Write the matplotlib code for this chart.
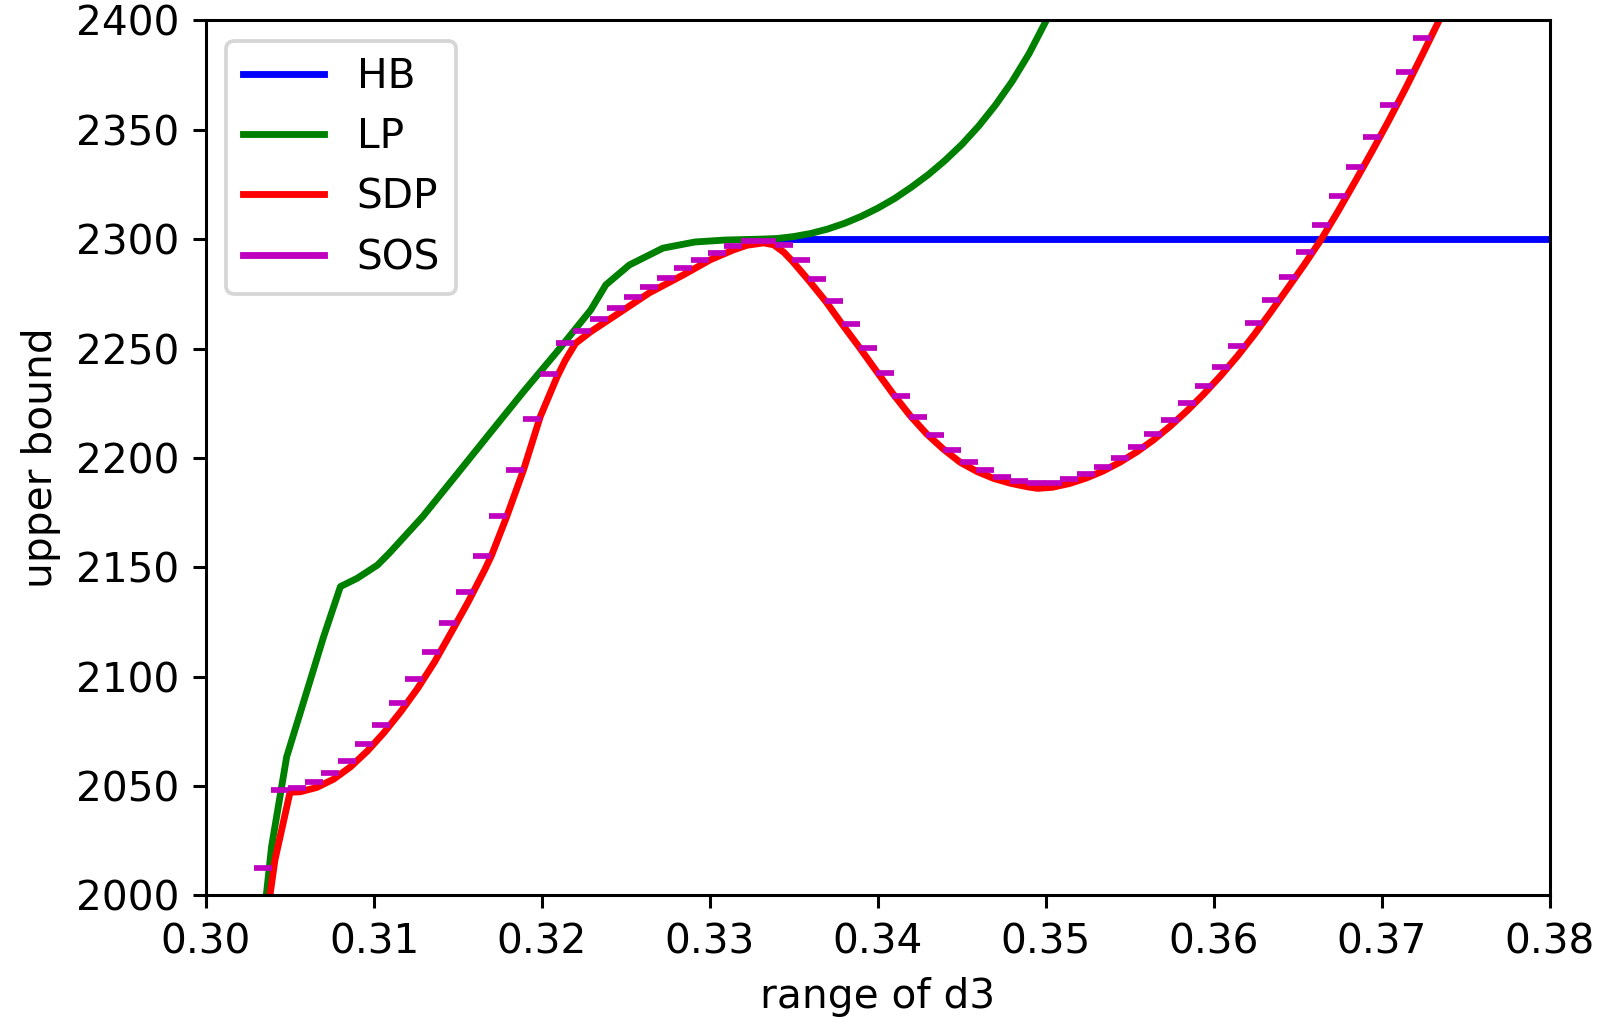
import numpy as np
import matplotlib
matplotlib.use('Agg')
import matplotlib.pyplot as plt
from matplotlib.lines import Line2D

# HB: flat bound
hb_x = [0.3334, 0.3800]
hb_y = [2300, 2300]

# LP
lp_x = [0.3035, 0.3036, 0.3039, 0.3048, 0.3056, 0.3070, 0.3080, 0.3090, 0.3102,
        0.3109, 0.3129, 0.3149, 0.3169, 0.3189, 0.3209, 0.3229, 0.3238, 0.3252,
        0.3272, 0.3291, 0.3309, 0.3330, 0.3340, 0.3350, 0.3360, 0.3370, 0.3380,
        0.3390, 0.3400, 0.3410, 0.3420, 0.3430, 0.3440, 0.3450, 0.3460, 0.3470,
        0.3480, 0.3490, 0.3500]
lp_y = [1995, 2001, 2022.3, 2063.4, 2083.3, 2118.3, 2141.2, 2145, 2151,
        2156.4, 2173.2, 2192.2, 2211.3, 2230.3, 2248.6, 2267.6, 2279.1, 2288.2,
        2295.9, 2298.7, 2299.6, 2300.0, 2300.3, 2301.2, 2302.6, 2304.6, 2307.2,
        2310.4, 2314.2, 2318.6, 2323.8, 2329.5, 2336.0, 2343.3, 2351.7, 2361.3,
        2372.2, 2384.8, 2399.6]

# SDP
sdp_x = [0.30375, 0.3041, 0.3050, 0.3056, 0.3066, 0.3076, 0.3086, 0.3096, 0.3106,
         0.3116, 0.3126, 0.3136, 0.3146, 0.3156, 0.3166, 0.3170, 0.3179, 0.3189,
         0.3199, 0.3209, 0.3214, 0.3220, 0.3229, 0.3244, 0.3264, 0.3284, 0.3300,
         0.3314, 0.3322, 0.3332, 0.3338, 0.3344, 0.3349, 0.3359, 0.3369, 0.3379,
         0.3389, 0.3399, 0.3409, 0.3419, 0.3429, 0.3439, 0.3449, 0.3459, 0.3469,
         0.3479, 0.3489, 0.3495, 0.3504, 0.3514, 0.3524, 0.3534, 0.3544, 0.3554,
         0.3564, 0.3574, 0.3584, 0.3594, 0.3604, 0.3614, 0.3624, 0.3634, 0.3644,
         0.3654, 0.3664, 0.3674, 0.3684, 0.3694, 0.3704, 0.3714, 0.3724, 0.3734,
         0.3740]
sdp_y = [1997, 2016.2, 2047.2, 2047.4, 2049.4, 2053.2, 2058.8, 2066.0, 2074.5,
         2084.1, 2094.7, 2106.7, 2120.3, 2134.1, 2149.0, 2155.5, 2173.2, 2194.5,
         2218.9, 2237.1, 2244.8, 2252.4, 2257.7, 2265.3, 2275.5, 2283.6, 2290.5,
         2295.1, 2297.2, 2298.3, 2297.4, 2294.0, 2290.0, 2281.0, 2271.5, 2260.8,
         2250.5, 2239.8, 2229.3, 2219.5, 2211.0, 2204.0, 2198.0, 2193.8, 2190.6,
         2188.4, 2186.8, 2186.1, 2186.6, 2188.3, 2190.8, 2194.0, 2198.0, 2202.7,
         2208.2, 2214.5, 2221.5, 2229.2, 2237.5, 2246.5, 2256.3, 2266.8, 2277.6,
         2288.5, 2300.0, 2312.8, 2326.2, 2339.9, 2354.0, 2368.7, 2384.1, 2399.8,
         2409]

# SOS (one value every 0.001 starting at 0.3034)
sos_x = np.round(0.3034 + 0.001 * np.arange(70), 4)
sos_y = [2012.4, 2048.2, 2049.0, 2051.7, 2055.9, 2061.6, 2069.1, 2077.9, 2087.9, 2099.1,
         2111.4, 2124.7, 2138.9, 2155.2, 2173.6, 2194.6, 2218.0, 2238.5, 2252.7, 2258.2,
         2263.5, 2268.7, 2273.6, 2278.0, 2282.4, 2286.7, 2290.4, 2293.8, 2297.0, 2299.3,
         2299.3, 2297.3, 2290.4, 2281.8, 2271.9, 2261.1, 2250.1, 2239.0, 2228.3, 2218.6,
         2210.5, 2203.6, 2198.3, 2194.4, 2191.3, 2189.5, 2188.7, 2188.7, 2190.4, 2192.5,
         2195.9, 2200.1, 2205.2, 2211.0, 2217.5, 2225.0, 2233.0, 2241.7, 2251.2, 2261.5,
         2272.2, 2282.6, 2294.3, 2306.5, 2319.8, 2333.1, 2346.9, 2361.3, 2376.4, 2392.1]

plt.rcParams['font.size'] = 10.7

lw = 1.8
dpi = 274
fig = plt.figure(figsize=(1601 / dpi, 1019 / dpi), dpi=dpi)
ax = fig.add_axes([0.1287, 0.1212, 0.8393, 0.8588])

ax.plot(hb_x, hb_y, 'b-', lw=lw)
ax.plot(lp_x, lp_y, 'g-', lw=lw)
ax.plot(sdp_x, sdp_y, 'r-', lw=lw)
ax.plot(sos_x, sos_y, 'm_', ls='none', ms=4.9, mew=1.5)

ax.set_xlim(0.30, 0.38)
ax.set_ylim(2000, 2400)
ax.set_xlabel('range of d3')
ax.set_ylabel('upper bound')

handles = [Line2D([], [], color=c, lw=lw) for c in ('b', 'g', 'r', 'm')]
ax.legend(handles, ['HB', 'LP', 'SDP', 'SOS'], loc='upper left')

fig.savefig('out.png', dpi=dpi)
